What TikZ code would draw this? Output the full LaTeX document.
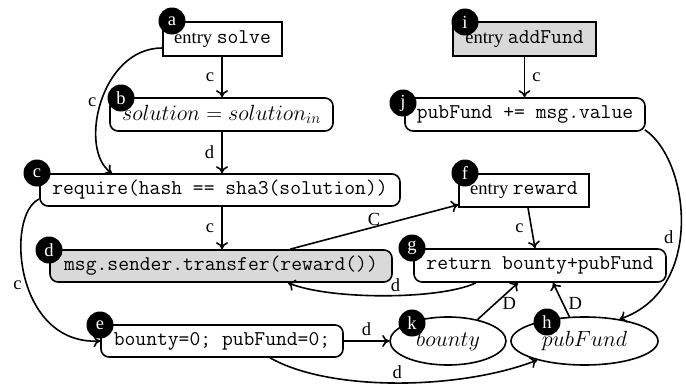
\RequirePackage{fix-cm}
\documentclass[tikz,border=0pt]{standalone}
\usepackage{fontspec}
\setmainfont{Liberation Serif}
\usetikzlibrary{arrows.meta,shapes.geometric}
\newcommand\cd[1]{{\fontsize{21}{24}\selectfont\ttfamily #1}}
\newcommand\mth[1]{{\fontsize{22}{26}\selectfont$#1$}}
\begin{document}
\begin{tikzpicture}[x=1pt,y=-1pt,font=\fontsize{18.5}{22}\selectfont,
  box/.style={draw,line width=1.6pt,inner sep=0pt,minimum height=33pt},
  rbox/.style={box,rounded corners=8pt},
  gfill/.style={fill=gray!30},
  ell/.style={draw,ellipse,line width=1.6pt,inner sep=0pt,minimum height=48pt},
  tag/.style={circle,fill=black,text=white,minimum size=27pt,inner sep=0pt},
  arr/.style={line width=1.6pt,-{To[length=7pt,width=12pt]}},
  lab/.style={inner sep=1pt}]
\useasboundingbox (0,0) rectangle (686,388);
% nodes
\node[box,minimum width=119pt,minimum height=34pt] (a) at (222.5,39) {entry \cd{solve}};
\node[rbox,minimum width=223pt] (b) at (221.5,114.5) {\mth{solution = solution_{in}}};
\node[rbox,minimum width=360pt,minimum height=32pt] (c) at (220,190) {\cd{require(hash == sha3(solution))}};
\node[rbox,gfill,minimum width=342pt,minimum height=32pt] (d) at (221,266) {\cd{msg.sender.transfer(reward())}};
\node[rbox,minimum width=242pt,minimum height=32pt] (e) at (222,341) {\cd{bounty=0; pubFund=0;}};
\node[box,gfill,minimum width=143pt,minimum height=34pt] (i) at (524.5,39) {entry \cd{addFund}};
\node[rbox,minimum width=240pt] (j) at (525,114.5) {\cd{pubFund += msg.value}};
\node[box,minimum width=130pt] (f) at (524,190.5) {entry \cd{reward}};
\node[rbox,minimum width=252pt] (g) at (540,265.5) {\cd{return bounty+pubFund}};
\node[ell,minimum width=116pt] (k) at (448,341) {\mth{bounty}};
\node[ell,minimum width=147pt] (h) at (584.5,341) {\mth{pubFund}};
% tags
\node[tag] (ta) at (172,21) {a};
\node[tag] (tb) at (121,98) {b};
\node[tag] (tc) at (37,173) {c};
\node[tag] (td) at (49,250) {d};
\node[tag] (te) at (100,325) {e};
\node[tag] (ti) at (465,22) {i};
\node[tag] (tj) at (403,103) {j};
\node[tag] (tf) at (465,173) {f};
\node[tag] (tg) at (412,248) {g};
\node[tag] (tk) at (412,323) {k};
\node[tag] (th) at (547,322) {h};
% edges
\draw[arr] ([xshift=-0.5]a.south) -- node[lab,left=6pt] (lab1) {c} ([xshift=0.5]b.north);
\draw[arr] ([yshift=-9]a.west) .. controls (100,48) and (78,150) .. node[lab,pos=0.5,left=3pt] (lab2) {c} ([xshift=-108]c.north);
\draw[arr] ([xshift=0.5]b.south) -- node[lab,left=6pt] (lab3) {d} ([xshift=2]c.north);
\draw[arr] ([xshift=2]c.south) -- node[lab,left=6pt] (lab4) {c} ([xshift=1]d.north);
\draw[arr] ([yshift=-9]c.west) .. controls (5,215) and (15,345) .. node[lab,pos=0.54,left=4pt] (lab5) {c} (e.west);
\draw[arr] ([xshift=69]d.north) -- node[lab,pos=0.5,above=0pt] (lab6) {C} ([yshift=3]f.south west);
\draw[arr] ([xshift=-64]g.south) .. controls (440,300) and (330,300) .. node[lab,pos=0.45,above=2pt] (lab7) {d} ([xshift=67]d.south);
\draw[arr] ([xshift=4]f.south) -- node[lab,left=6pt] (lab8) {c} ([xshift=-5]g.north);
\draw[arr] (i.south) -- node[lab,right=6pt] (lab9) {c} ([xshift=-0.5]j.north);
\draw[arr] ([xshift=-1,yshift=2]j.south east) .. controls (690,160) and (705,290) .. node[lab,pos=0.55,left=5pt] (lab10) {d} (h.32);
\draw[arr] (e.east) -- node[lab,above=4pt] (lab11) {d} (k.west);
\draw[arr] ([xshift=48]e.south) .. controls (330,392) and (460,390) .. node[lab,pos=0.5,above=3pt] (lab12) {d} (h.202);
\draw[arr] (k.36) -- node[lab,pos=0.45,right=5pt] (lab13) {D} ([xshift=-22]g.south);
\draw[arr] (h.122) -- node[lab,pos=0.4,right=4pt] (lab14) {D} ([xshift=13]g.south);
\end{tikzpicture}
\end{document}
